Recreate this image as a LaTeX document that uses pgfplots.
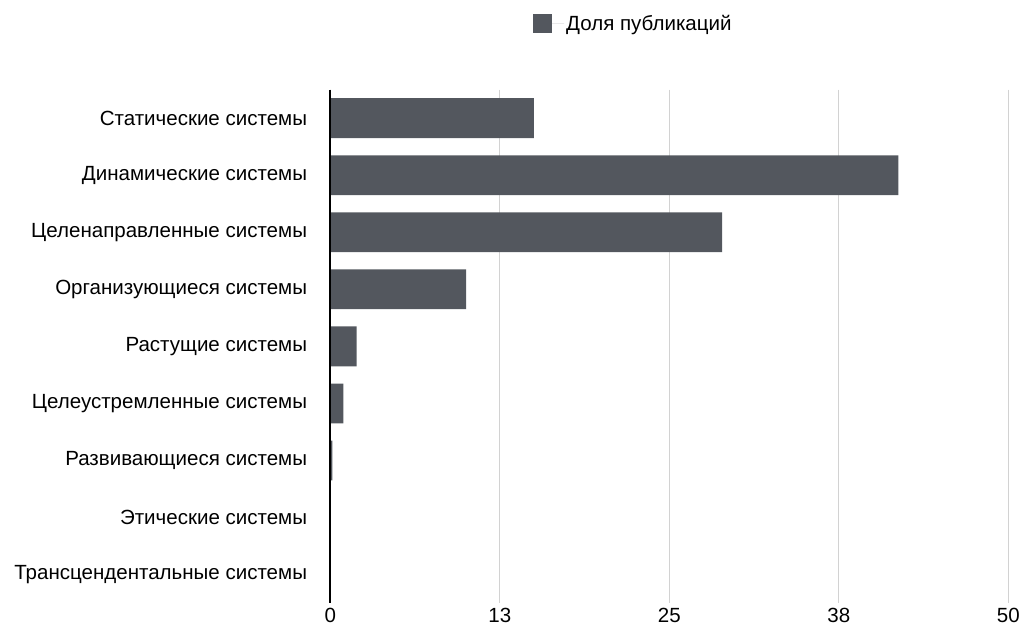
\documentclass[border=0pt]{standalone}
\usepackage{pgfplots}
\pgfplotsset{compat=1.18}
\usepackage{fontspec}
\setmainfont{Liberation Sans}
\definecolor{barc}{RGB}{83,87,94}
\definecolor{gridc}{RGB}{210,210,210}
\begin{document}
\begin{tikzpicture}
\begin{axis}[
  scale only axis,
  width=681bp, height=516bp,
  xbar, bar width=40bp,
  xmin=0, xmax=50,
  ymin=-0.5, ymax=8.5,
  y dir=reverse,
  clip=false,
  xtick={0,12.5,25,37.5,50},
  xticklabels={0,13,25,38,50},
  ytick={0,...,8},
  yticklabels={Статические системы,Динамические системы,Целенаправленные системы,Организующиеся системы,Растущие системы,Целеустремленные системы,Развивающиеся системы,Этические системы,Трансцендентальные системы},
  major tick length=0pt,
  xmajorgrids, grid style={gridc, line width=1pt},
  axis line style={draw=none},
  tick label style={font=\fontsize{20.7}{23}\selectfont},
  yticklabel style={xshift=-20bp},
  xticklabel style={yshift=-1bp},
  legend style={draw=none, at={(0.447,1.128)}, anchor=center, font=\fontsize{20.7}{23}\selectfont, legend cell align=left, inner sep=0pt},
  legend image code/.code={\fill[barc] (0bp,-9.5bp) rectangle (19bp,9.5bp); \path (0bp,0bp) -- (31bp,0bp);},
]
\addplot[fill=barc, draw=none] coordinates {
(15,0) (41.9,1) (28.9,2) (10,3) (1.93,4) (0.95,5) (0.15,6) (0,7) (0,8)
};
\addlegendentry{Доля публикаций}
\draw[black, line width=2pt] (axis cs:0,-0.5) -- (axis cs:0,8.5);
\end{axis}
\path[use as bounding box] ([xshift=-332bp, yshift=-18bp]current axis.south west) rectangle ([xshift=10bp,yshift=90bp]current axis.north east);
\end{tikzpicture}
\end{document}
